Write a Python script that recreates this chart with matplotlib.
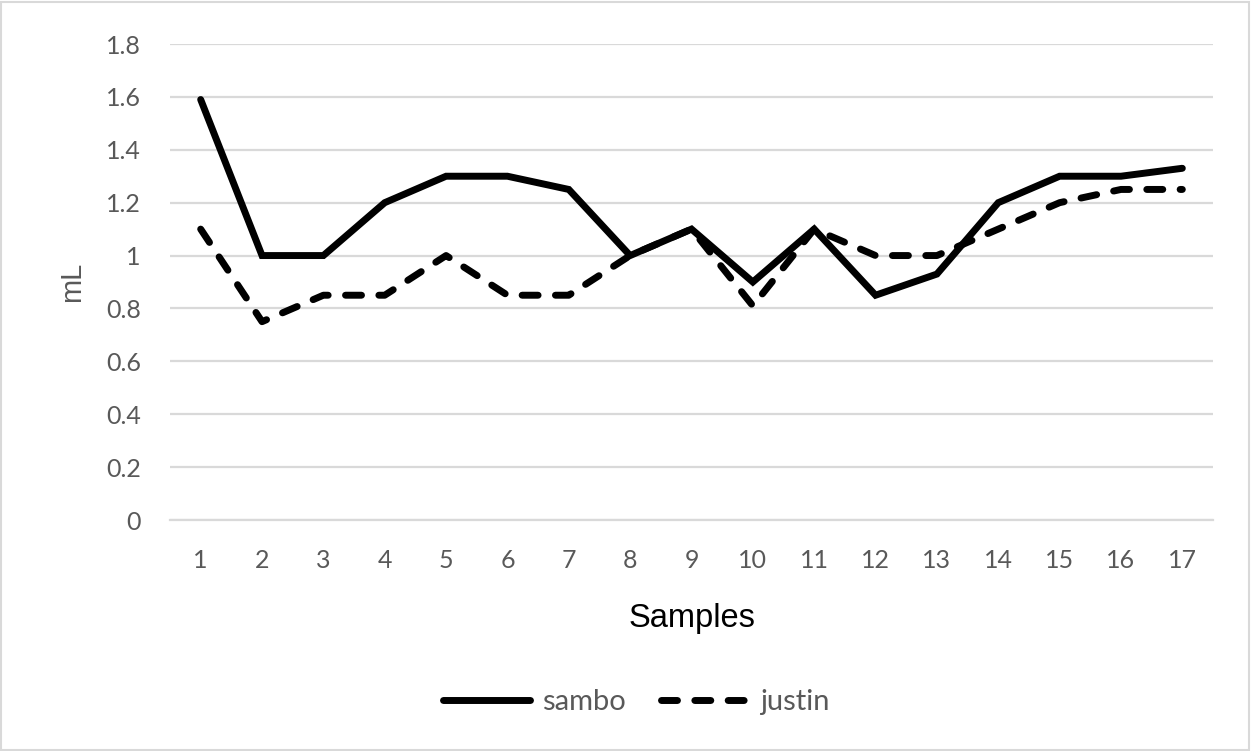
import matplotlib
matplotlib.use("Agg")
import matplotlib.pyplot as plt
from matplotlib.patches import Rectangle

samples = list(range(1, 18))
sambo = [1.59, 1.0, 1.0, 1.2, 1.3, 1.3, 1.25, 1.0, 1.1, 0.9, 1.1, 0.85, 0.93, 1.2, 1.3, 1.3, 1.33]
justin = [1.1, 0.75, 0.85, 0.85, 1.0, 0.85, 0.85, 1.0, 1.1, 0.81, 1.1, 1.0, 1.0, 1.1, 1.2, 1.25, 1.25]
yticks = [0, 0.2, 0.4, 0.6, 0.8, 1.0, 1.2, 1.4, 1.6, 1.8]
ytick_labels = ["0", "0.2", "0.4", "0.6", "0.8", "1", "1.2", "1.4", "1.6", "1.8"]

W, H = 1251, 751
fig = plt.figure(figsize=(W / 100, H / 100), dpi=100)
ax = fig.add_axes([170 / W, 1 - 520 / H, (1213 - 170) / W, (520 - 44) / H])

grey = "#595959"
tick_font = "Lato"
ax.plot(samples, sambo, color="black", lw=5, solid_joinstyle="miter", solid_capstyle="round", label="sambo")
ax.plot(samples, justin, color="black", lw=5, dashes=(2.3, 2.5), dash_capstyle="round", label="justin")

ax.set_xlim(0.5, 17.5)
ax.set_ylim(0, 1.8)
ax.set_yticks(yticks)
ax.set_yticklabels(ytick_labels)
ax.set_xticks(samples)
ax.grid(axis="y", color="#d9d9d9", lw=1.6)
ax.set_axisbelow(True)
for s in ["top", "right", "left"]:
    ax.spines[s].set_visible(False)
ax.spines["bottom"].set_color("#d9d9d9")
ax.spines["bottom"].set_linewidth(1.6)
ax.tick_params(axis="both", length=0, colors=grey, labelsize=18)
ax.tick_params(axis="y", pad=21)
ax.tick_params(axis="x", pad=21)
for lab in ax.get_xticklabels() + ax.get_yticklabels():
    lab.set_family(tick_font)

ax.set_xlabel("Samples", fontsize=23.5, family="Liberation Sans", color="black", labelpad=22)
fig.text(72 / W, 1 - 282 / H, "mL", rotation=90, fontsize=21, family="Liberation Sans",
         color=grey, ha="center", va="center")

leg = fig.legend(loc="center", bbox_to_anchor=(636 / W, 1 - 702 / H), ncol=2, frameon=False,
                 handlelength=3.0, columnspacing=1.2, handletextpad=0.4,
                 prop={"family": tick_font, "size": 21})
for t in leg.get_texts():
    t.set_color(grey)

fig.patches.append(Rectangle((1 / W, 1 / H), 1 - 3 / W, 1 - 3 / H, transform=fig.transFigure,
                             fill=False, edgecolor="#d9d9d9", lw=1.5))

fig.savefig("out.png", dpi=100, facecolor="white")
